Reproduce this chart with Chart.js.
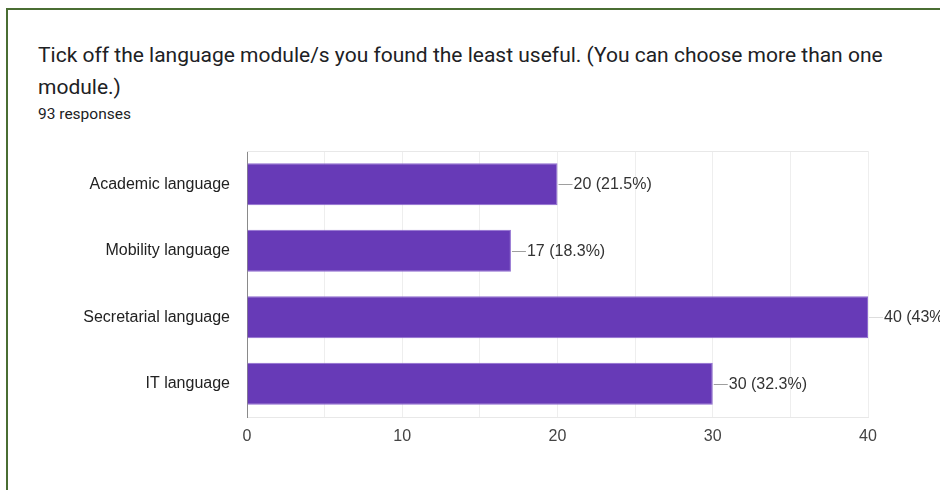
<html lang="en">
<head>
    <meta charset="UTF-8">
    <title>Least useful language modules</title>
    <script src="https://cdn.jsdelivr.net/npm/chart.js"></script>
    <style>
        body { margin: 0; background: white; overflow: hidden; }
        .frame { position: absolute; left: 6px; top: 8px; width: 934px; height: 482px;
                 border-left: 2px solid #4a6d32; border-top: 2px solid #4a6d32; }
        .title { position: absolute; left: 38px; top: 39px; font-family: Roboto, sans-serif;
                 font-size: 21px; line-height: 32px; color: #202124; white-space: nowrap; }
        .sub { position: absolute; left: 38px; top: 105px; font-family: Roboto, sans-serif;
               font-size: 15.5px; color: #202124; }
        #chart { position: absolute; left: 0; top: 0; }
    </style>
</head>
<body>
    <div class="frame"></div>
    <div class="title">Tick off the language module/s you found the least useful. (You can choose more than one<br>module.)</div>
    <div class="sub">93 responses</div>
    <canvas id="chart" width="940" height="490"></canvas>

    <script>
        // data
        const modules = ['Academic language', 'Mobility language', 'Secretarial language', 'IT language'];
        const counts = [20, 17, 40, 30];
        const totalResponses = 93;
        const axisTicks = [0, 10, 20, 30, 40];

        const labelFont = '"Liberation Sans", Arial, sans-serif';

        function pct(v) {
            let p = (v / totalResponses * 100).toFixed(1);
            if (p.endsWith('.0')) p = p.slice(0, -2);
            return v + ' (' + p + '%)';
        }

        // leader line + value label next to each bar, plus the top frame line
        const barLabels = {
            id: 'barLabels',
            afterDatasetsDraw(chart) {
                const ctx = chart.ctx;
                const xs = chart.scales.x;
                const ys = chart.scales.y;
                const area = chart.chartArea;
                ctx.save();
                ctx.strokeStyle = '#e8e8e8';
                ctx.lineWidth = 1;
                ctx.beginPath();
                ctx.moveTo(area.left, area.top + 0.5);
                ctx.lineTo(area.right, area.top + 0.5);
                ctx.stroke();

                ctx.font = '16px ' + labelFont;
                ctx.fillStyle = '#333333';
                ctx.textBaseline = 'middle';
                counts.forEach((v, i) => {
                    const x = xs.getPixelForValue(v);
                    const y = Math.round(ys.getPixelForValue(i)) + 0.5;
                    ctx.strokeStyle = v === xs.max ? '#dddddd' : '#9e9e9e';
                    ctx.beginPath();
                    ctx.moveTo(x + 1, y);
                    ctx.lineTo(x + 15, y);
                    ctx.stroke();
                    ctx.fillText(pct(v), x + 16, y);
                });
                ctx.restore();
            }
        };

        new Chart(document.getElementById('chart').getContext('2d'), {
            type: 'bar',
            data: {
                labels: modules,
                datasets: [{
                    data: counts,
                    backgroundColor: '#673ab7',
                    borderColor: '#8e6bcf',
                    borderWidth: 1,
                    categoryPercentage: 1,
                    barPercentage: 0.63
                }]
            },
            options: {
                indexAxis: 'y',
                responsive: false,
                animation: false,
                layout: { padding: { top: 151, right: 72, bottom: 33, left: 0 } },
                plugins: { legend: { display: false }, tooltip: { enabled: false } },
                scales: {
                    x: {
                        min: axisTicks[0],
                        max: axisTicks[axisTicks.length - 1],
                        afterFit(scale) { scale.height = 40; },
                        ticks: {
                            stepSize: 5,
                            padding: 10,
                            color: '#444444',
                            font: { family: labelFont, size: 16 },
                            callback: (v) => axisTicks.includes(v) ? v : ''
                        },
                        grid: { color: '#eeeeee', drawTicks: false },
                        border: { color: '#e8e8e8' }
                    },
                    y: {
                        afterFit(scale) { scale.width = 247; },
                        ticks: {
                            padding: 17,
                            color: '#222222',
                            font: { family: labelFont, size: 16 }
                        },
                        grid: { display: false, drawTicks: false },
                        border: { color: '#8a8a8a', width: 1 }
                    }
                }
            },
            plugins: [barLabels]
        });
    </script>
</body>
</html>
